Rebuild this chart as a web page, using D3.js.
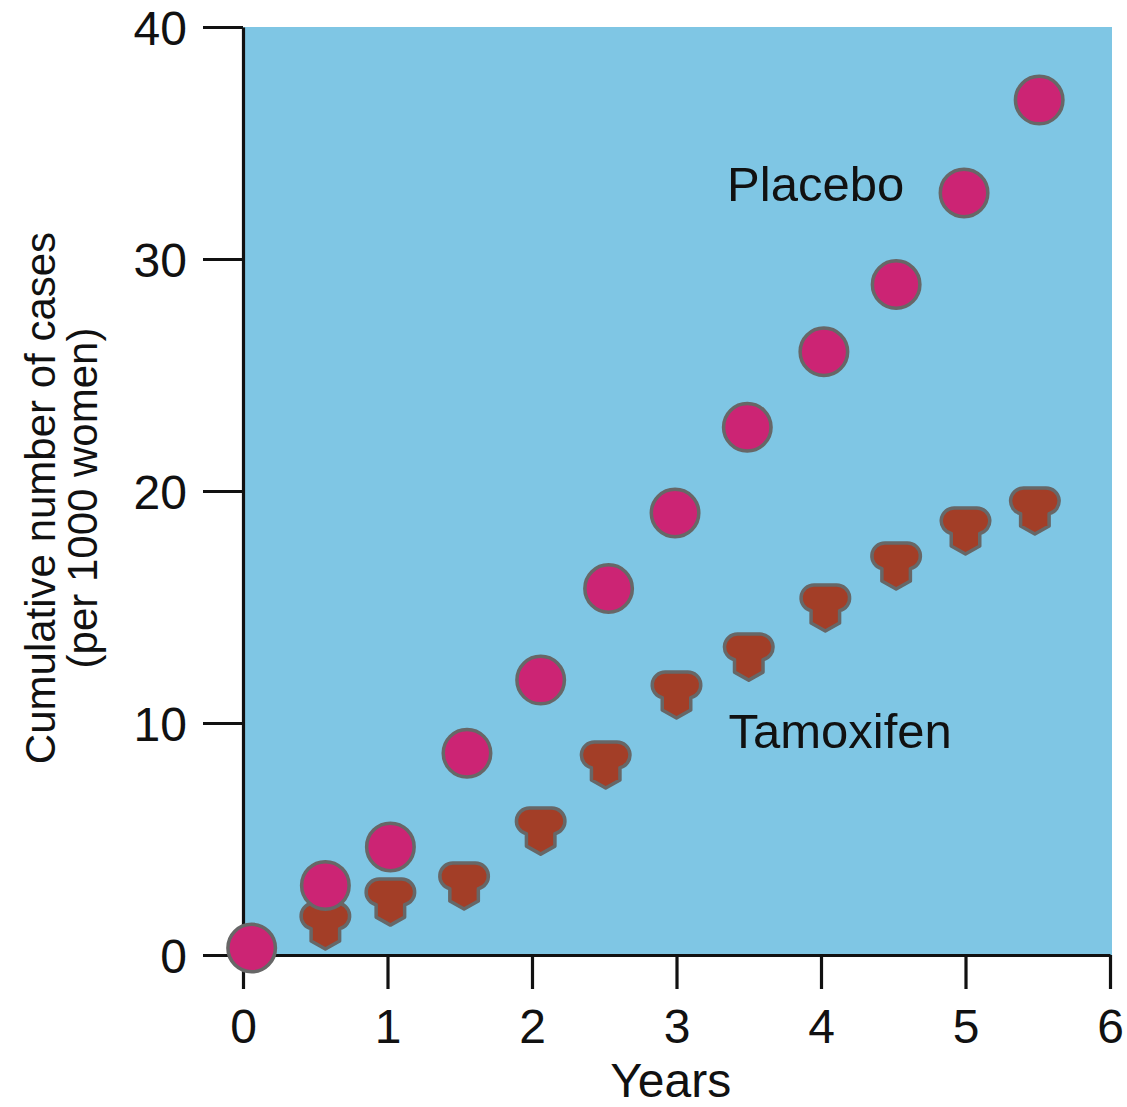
<!DOCTYPE html>
<html>
<head>
<meta charset="utf-8">
<script src="https://cdn.jsdelivr.net/npm/d3@7"></script>
<style>
  html, body { margin: 0; padding: 0; background: #ffffff; }
  text { font-family: "Liberation Sans", Arial, Helvetica, sans-serif; fill: #111; }
</style>
</head>
<body>
<svg id="chart" width="1127" height="1107"></svg>
<script>
// ---- data ----
const placeboYears  = [0.06, 0.57, 1.02, 1.55, 2.06, 2.53, 2.99, 3.49, 4.02, 4.52, 4.99, 5.51];
const placeboCases  = [0.3, 3.0, 4.66, 8.7, 11.85, 15.8, 19.05, 22.75, 26.0, 28.9, 32.85, 36.85];
const tamoxYears    = [0.57, 1.02, 1.53, 2.06, 2.51, 3.0, 3.5, 4.03, 4.52, 5.0, 5.48];
const tamoxCases    = [1.25, 2.28, 2.97, 5.34, 8.19, 11.21, 12.84, 14.96, 16.77, 18.28, 19.14];
const xTicks = [0, 1, 2, 3, 4, 5, 6];
const yTicks = [0, 10, 20, 30, 40];
const seriesLabels = ["Placebo", "Tamoxifen"];
const xTitle = "Years";
const yTitleLines = ["Cumulative number of cases", "(per 1000 women)"];

// ---- layout ----
const margin = {left: 243, top: 27, right: 17, bottom: 152};
const W = 1127, H = 1107;
const width = W - margin.left - margin.right;   // 867
const height = H - margin.top - margin.bottom;  // 928

const svg = d3.select("#chart");
const g = svg.append("g").attr("transform", `translate(${margin.left},${margin.top})`);

const x = d3.scaleLinear().domain([0, 6]).range([0, width]);
const y = d3.scaleLinear().domain([0, 40]).range([height, 0]);

// background
g.append("rect")
  .attr("x", 0).attr("y", 0)
  .attr("width", width + 2).attr("height", height)
  .attr("fill", "#7fc6e4");

// axes
const fmt = d3.format("d");
const yAxis = d3.axisLeft(y).tickValues(yTicks).tickFormat(fmt).tickSize(40).tickSizeOuter(0).tickPadding(16);
const xAxis = d3.axisBottom(x).tickValues(xTicks).tickFormat(fmt).tickSize(34).tickSizeOuter(0).tickPadding(20);

const gy = g.append("g").call(yAxis);
const gx = g.append("g").attr("transform", `translate(0,${height})`).call(xAxis);

[gx, gy].forEach(a => {
  a.selectAll("path.domain").attr("stroke", "#111").attr("stroke-width", 3.2);
  a.selectAll(".tick line").attr("stroke", "#111").attr("stroke-width", 3.2);
  a.selectAll(".tick text").style("font-size", "48px").attr("fill", "#111")
    .style("font-family", "'Liberation Sans', Arial, Helvetica, sans-serif");
});
gy.selectAll(".tick text").attr("dy", "0.36em");

// tamoxifen marker shape (centred on the data point)
const tamoxPath = "M -11.25 -23 L 11.25 -23 A 13 13 0 0 1 14.25 2.65 L 14.25 15 L 0 23 L -14.25 15 L -14.25 2.65 A 13 13 0 0 1 -11.25 -23 Z";

const tamox = tamoxYears.map((v, i) => ({x: v, y: tamoxCases[i]}));
const placebo = placeboYears.map((v, i) => ({x: v, y: placeboCases[i]}));

g.append("g").selectAll("path.tam")
  .data(tamox).join("path")
  .attr("class", "tam")
  .attr("d", tamoxPath)
  .attr("transform", d => `translate(${x(d.x)},${y(d.y)})`)
  .attr("fill", "#a33e27")
  .attr("stroke", "#676767")
  .attr("stroke-width", 3.5)
  .attr("stroke-linejoin", "round");

g.append("g").selectAll("circle.pl")
  .data(placebo).join("circle")
  .attr("class", "pl")
  .attr("cx", d => x(d.x))
  .attr("cy", d => y(d.y))
  .attr("r", 23.75)
  .attr("fill", "#cc2474")
  .attr("stroke", "#676767")
  .attr("stroke-width", 3.5);

// series labels
g.append("text").attr("x", x(3.35)).attr("y", y(32.5))
  .style("font-size", "49px").text(seriesLabels[0]);
g.append("text").attr("x", x(3.36)).attr("y", y(8.92))
  .style("font-size", "49px").text(seriesLabels[1]);

// axis titles
g.append("text")
  .attr("x", x(2.96)).attr("y", height + 142)
  .attr("text-anchor", "middle")
  .style("font-size", "48px")
  .text(xTitle);

const yt = svg.append("text")
  .attr("transform", `translate(55,${margin.top + y(20) + 7}) rotate(-90)`)
  .attr("text-anchor", "middle")
  .style("font-size", "42px");
yt.append("tspan").attr("x", 0).attr("dy", 0).text(yTitleLines[0]);
yt.append("tspan").attr("x", 0).attr("dy", 42).text(yTitleLines[1]);
</script>
</body>
</html>
